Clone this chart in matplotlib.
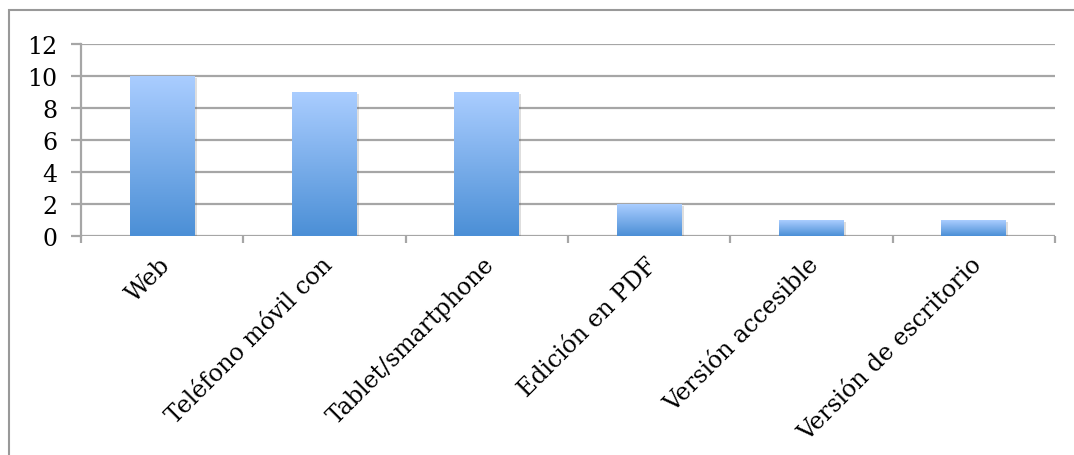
import numpy as np
import matplotlib
matplotlib.use("Agg")
import matplotlib.pyplot as plt
import matplotlib.patheffects as pe
from matplotlib.patches import Rectangle
from matplotlib.colors import LinearSegmentedColormap

# chart data
categories = ["Web", "Teléfono móvil con", "Tablet/smartphone",
              "Edición en PDF", "Versión accesible", "Versión de escritorio"]
values = [10, 9, 9, 2, 1, 1]
y_ticks = [0, 2, 4, 6, 8, 10, 12]

plt.rcParams['font.family'] = ['DejaVu Serif']
grid_color = '#a6a6a6'

fig = plt.figure(figsize=(10.74, 4.56), dpi=100)
ax = fig.add_axes([81 / 1074, 1 - 237 / 456, (1055 - 81) / 1074, (237 - 45) / 456])

# outer border of the chart area
fig.patches.append(Rectangle((8.5 / 1074, -0.1), 1.2, 1 - 10.5 / 456 + 0.1,
                             transform=fig.transFigure, fill=False,
                             edgecolor='#999999', linewidth=1.5))

x = np.arange(len(categories))

for yv in y_ticks:
    ax.axhline(yv, color=grid_color, linewidth=1.6, zorder=1)

cmap = LinearSegmentedColormap.from_list('bar', ['#4b8fd6', '#aacdff'])
grad = np.linspace(0, 1, 256).reshape(-1, 1)
bars = ax.bar(x, values, width=0.4, color='white', zorder=2,
              path_effects=[pe.SimplePatchShadow(offset=(1.5, -1.5), alpha=0.18), pe.Normal()])
for b in bars:
    x0, y0 = b.get_x(), b.get_y()
    im = ax.imshow(grad, cmap=cmap, origin='lower', aspect='auto',
                   extent=[x0, x0 + b.get_width(), y0, y0 + b.get_height()], zorder=3)
    im.set_clip_path(b)
ax.set_xlim(-0.5, len(categories) - 0.5)
ax.set_ylim(0, 12)

for s in ['top', 'right', 'bottom']:
    ax.spines[s].set_visible(False)
ax.spines['left'].set_color(grid_color)
ax.spines['left'].set_linewidth(1.6)

ax.set_yticks(y_ticks)
ax.set_yticklabels([str(v) for v in y_ticks], fontsize=17)
ax.tick_params(axis='y', length=7, width=1.6, color=grid_color, pad=10)

# category boundary ticks below the axis
ax.set_xticks(np.arange(len(categories) + 1) - 0.5)
ax.set_xticklabels([])
ax.tick_params(axis='x', length=5, width=1.6, color=grid_color)
for xi, lab in zip(x, categories):
    ax.annotate(lab, xy=(xi, 0), xycoords='data', xytext=(3, -18),
                textcoords='offset points', rotation=45, rotation_mode='anchor',
                ha='right', va='center', fontsize=17)

fig.savefig('out.png', dpi=100)
